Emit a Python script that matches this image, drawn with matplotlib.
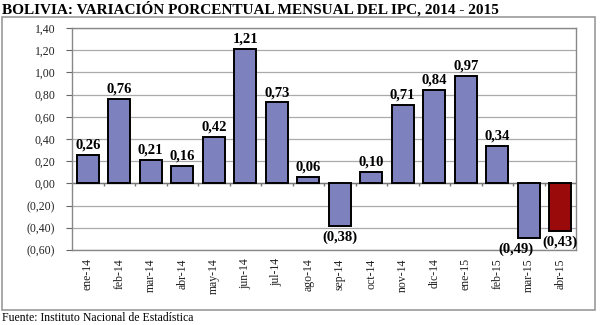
import matplotlib
matplotlib.use("Agg")
import matplotlib.pyplot as plt
from matplotlib.patches import Rectangle
import numpy as np

# data
meses = ["ene-14", "feb-14", "mar-14", "abr-14", "may-14", "jun-14", "jul-14", "ago-14",
         "sep-14", "oct-14", "nov-14", "dic-14", "ene-15", "feb-15", "mar-15", "abr-15"]
ipc = [0.26, 0.76, 0.21, 0.16, 0.42, 1.21, 0.73, 0.06,
       -0.38, 0.10, 0.71, 0.84, 0.97, 0.34, -0.49, -0.43]
yticks = [-0.6, -0.4, -0.2, 0.0, 0.2, 0.4, 0.6, 0.8, 1.0, 1.2, 1.4]

plt.rcParams["font.family"] = ["Liberation Serif", "DejaVu Serif"]

def fmt(v):
    s = "{0:.2f}".format(abs(v)).replace(".", ",")
    return "(" + s + ")" if v < 0 else s

fig = plt.figure(figsize=(6, 3.25), dpi=100, facecolor="white")
ax = fig.add_axes([72/600, 1-250/325, 504/600, 222/325])

# outer chart frame
fig.patches.append(Rectangle((2/600, 1-310/325), 593/600, 293/325, transform=fig.transFigure,
                             fill=False, edgecolor="#999999", linewidth=1.2))

x = np.arange(len(meses))
colors = ["#7d82be"] * (len(meses) - 1) + ["#9a0a0a"]
ax.bar(x, ipc, width=0.7, color=colors, edgecolor="black", linewidth=1.4, zorder=3)

for i, v in enumerate(ipc):
    if v >= 0:
        ax.text(i, v + 0.03, fmt(v), ha="center", va="bottom", fontsize=10.5, fontweight="bold")
    else:
        dx = -0.4 if i == 14 else 0
        ax.text(i + dx, v - 0.04, fmt(v), ha="center", va="top", fontsize=10.5, fontweight="bold")

ax.set_xlim(-0.5, len(meses) - 0.5)
ax.set_ylim(-0.6, 1.4)
ax.set_yticks(yticks)
ax.set_yticklabels([fmt(t) for t in yticks], fontsize=8.5, color="#222222")
ax.set_xticks(x)
ax.set_xticklabels(meses, rotation=90, fontsize=8.5, color="#222222")
ax.tick_params(axis="x", length=0, pad=6)
ax.tick_params(axis="y", length=4, direction="out", color="#666666", pad=8)
ax.grid(axis="y", color="#aaaaaa", linewidth=0.9, zorder=0)
ax.axhline(0, color="#777777", linewidth=1.0, zorder=2)
# category separator ticks on the zero line
ax.vlines(x[:-1] + 0.5, -0.025, 0, color="#777777", linewidth=1.0, zorder=2)
for s in ax.spines.values():
    s.set_color("#888888")
    s.set_linewidth(1.0)

fig.text(2/600, 1-9/325, "BOLIVIA: VARIACIÓN PORCENTUAL MENSUAL DEL IPC, 2014 - 2015",
         fontsize=11, fontweight="bold", va="center", ha="left")
fig.text(2/600, 1-318/325, "Fuente: Instituto Nacional de Estadística",
         fontsize=8.5, va="center", ha="left")

fig.savefig("out.png", dpi=100)
